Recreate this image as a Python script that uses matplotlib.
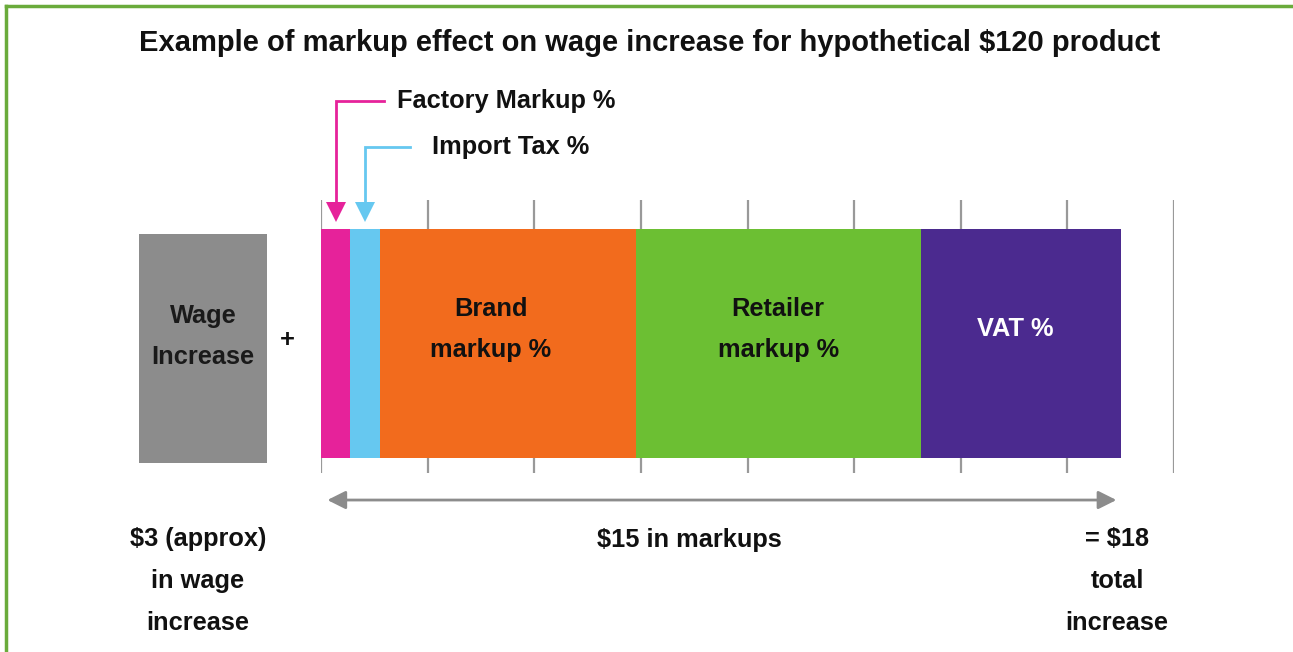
import matplotlib
matplotlib.use("Agg")
import matplotlib.pyplot as plt
from matplotlib.lines import Line2D
from matplotlib.transforms import blended_transform_factory
import numpy as np

plt.rcParams['font.family'] = ['Liberation Sans', 'DejaVu Sans']
plt.rcParams['font.weight'] = 'bold'

# ---- data ----
segments = ["Factory Markup %", "Import Tax %", "Brand\nmarkup %", "Retailer\nmarkup %", "VAT %"]
values = [0.55, 0.55, 4.8, 5.35, 3.75]
colors = ["#e6229a", "#66c8f0", "#f26b1d", "#6cbf33", "#4b2a8f"]
label_colors = [None, None, "#111111", "#111111", "#ffffff"]
wage_value = 3
markup_total = 15
axis_max = 16
tick_step = 2
title = "Example of markup effect on wage increase for hypothetical $120 product"
wage_label = "Wage\nIncrease"
bottom_left = "$3 (approx)\nin wage\nincrease"
bottom_mid = "$15 in markups"
bottom_right = "= $18\ntotal\nincrease"

W, H = 1293, 652
FS = 18.3
LS = 1.93
fig = plt.figure(figsize=(W / 100, H / 100), dpi=100)

def px_rect(x0, y0, x1, y1):
    return [x0 / W, 1 - y1 / H, (x1 - x0) / W, (y1 - y0) / H]

# green frame
green = "#6aab3b"
fig.add_artist(Line2D([6 / W, 6 / W], [0, 1 - 6 / H], color=green, lw=2.5, transform=fig.transFigure))
fig.add_artist(Line2D([6 / W, 1], [1 - 6 / H, 1 - 6 / H], color=green, lw=2.5, transform=fig.transFigure))

fig.text(650 / W, 1 - 43 / H, title, ha="center", va="center", fontsize=21, color="#111111", fontweight="bold")

# main stacked bar
ax = fig.add_axes(px_rect(321, 200, 1174, 473))
ax.set_xlim(0, axis_max)
ax.set_ylim(0, 1)
ax.set_xticks(np.arange(0, axis_max + 1, tick_step))
ax.set_yticks([])
ax.tick_params(axis="x", length=0, labelbottom=False)
ax.grid(axis="x", color="#999999", lw=1.6)
ax.set_axisbelow(True)
for s in ax.spines.values():
    s.set_visible(False)

bar_y, bar_h = 0.4744, 0.839
lefts = np.concatenate([[0], np.cumsum(values)[:-1]])
ax.barh([bar_y] * len(values), values, left=lefts, height=bar_h, color=colors, linewidth=0)

label_dx = [0, 0, -0.32, 0.0, -0.11]
for name, v, l, lc, dx in zip(segments, values, lefts, label_colors, label_dx):
    if lc is None:
        continue
    ax.text(l + v / 2 + dx, 0.526, name, ha="center", va="center", fontsize=FS,
            color=lc, fontweight="bold", linespacing=LS)

# callouts for small segments
tr = blended_transform_factory(ax.transData, ax.transAxes)
call_y = [1.363, 1.194]
call_x_end = [1.18, 1.67]
call_text_x = [1.425, 2.08]
for i in range(2):
    cx = lefts[i] + values[i] / 2
    ax.plot([call_x_end[i], cx, cx], [call_y[i], call_y[i], 0.96], color=colors[i], lw=2,
            transform=tr, clip_on=False, solid_joinstyle="miter")
    ax.plot([cx], [0.957], marker="v", markersize=14, color=colors[i], transform=tr,
            clip_on=False, markeredgewidth=0)
    ax.text(call_text_x[i], call_y[i], segments[i], transform=tr, ha="left", va="center",
            fontsize=FS, color="#111111", fontweight="bold")

# double arrow
ax.annotate("", xy=(0.12, -0.099), xytext=(markup_total - 0.08, -0.099), xycoords=tr, textcoords=tr,
            arrowprops=dict(arrowstyle="<|-|>,head_length=1.1,head_width=0.55", color="#8c8c8c", lw=2.0,
                            shrinkA=0, shrinkB=0), annotation_clip=False)

# wage bar
axw = fig.add_axes(px_rect(139, 234, 267, 463))
axw.barh([0], [wage_value], height=1, color="#8c8c8c", linewidth=0)
axw.set_xlim(0, wage_value)
axw.set_ylim(-0.5, 0.5)
axw.axis("off")
axw.text(wage_value / 2, 0.052, wage_label, ha="center", va="center", fontsize=FS, color="#1a1a1a",
         fontweight="bold", linespacing=LS)

fig.text(287 / W, 1 - 340 / H, "+", ha="center", va="center", fontsize=FS, color="#111111", fontweight="bold")

# bottom labels
fig.text(198 / W, 1 - 581 / H, bottom_left, ha="center", va="center", fontsize=FS, color="#111111",
         fontweight="bold", linespacing=LS)
fig.text(689 / W, 1 - 540 / H, bottom_mid, ha="center", va="center", fontsize=FS, color="#111111",
         fontweight="bold")
fig.text(1117 / W, 1 - 581 / H, bottom_right, ha="center", va="center", fontsize=FS, color="#111111",
         fontweight="bold", linespacing=LS)

fig.savefig("out.png", dpi=100)
